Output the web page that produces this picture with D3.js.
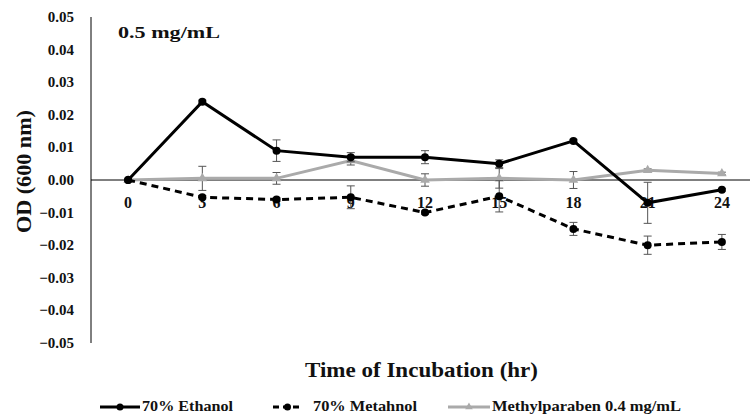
<!DOCTYPE html>
<html lang="en">
  <head>
    <meta charset="UTF-8" />
    <title>OD 0.5 mg/mL</title>
    <script src="https://d3js.org/d3.v7.min.js"></script>
    <style>
      body {
        margin: 0;
        background: white;
      }
      svg {
        display: block;
      }
      svg text {
        font-family: "Liberation Serif", "Times New Roman", Times, "DejaVu Serif", serif;
        font-weight: bold;
        fill: #111;
      }
    </style>
  </head>
  <body>
    <svg id="chart" width="750" height="419"></svg>
    <script>
      const hours = ["0", "3", "6", "9", "12", "15", "18", "21", "24"];
      const yTicks = [0.05, 0.04, 0.03, 0.02, 0.01, 0, -0.01, -0.02, -0.03, -0.04, -0.05];

      const ethanol = [0, 0.024, 0.009, 0.007, 0.007, 0.005, 0.012, -0.007, -0.003];
      const ethanolErr = [0, 0.0005, 0.0033, 0.0014, 0.002, 0.0012, 0.0005, 0.0063, 0.0004];

      const methanol = [0, -0.0053, -0.006, -0.0053, -0.010, -0.005, -0.015, -0.020, -0.019];
      const methanolErr = [0, 0.0005, 0.0005, 0.0035, 0.0005, 0.0048, 0.002, 0.0028, 0.0023];

      const paraben = [0, 0.0005, 0.0005, 0.006, 0, 0.0005, 0, 0.003, 0.002];
      const parabenErr = [0, 0.0037, 0.0018, 0.0014, 0.0019, 0.003, 0.0026, 0.0004, 0.0004];

      const seriesNames = ["70% Ethanol", "70% Metahnol", "Methylparaben 0.4 mg/mL"];

      const series = [
        { name: seriesNames[0], values: ethanol, err: ethanolErr, color: "#000", dash: null, marker: "circle" },
        { name: seriesNames[1], values: methanol, err: methanolErr, color: "#000", dash: "7,5", marker: "circle" },
        { name: seriesNames[2], values: paraben, err: parabenErr, color: "#aaa", dash: null, marker: "triangle" },
      ];

      const svg = d3.select("#chart");

      const x = d3.scalePoint().domain(hours).range([91, 759]).padding(0.5);
      const y = d3.scaleLinear().domain([-0.05, 0.05]).range([343, 17]);

      // y axis
      const yAxis = svg.append("g").attr("transform", "translate(91,0)");
      yAxis.append("line").attr("y1", y(0.05)).attr("y2", y(-0.05)).attr("stroke", "#000");
      yAxis
        .selectAll("text")
        .data(yTicks)
        .enter()
        .append("text")
        .attr("x", -17)
        .attr("y", (d) => y(d) + 5)
        .attr("text-anchor", "end")
        .attr("font-size", 15)
        .text((d) => d3.format(".2f")(d));

      // x axis at zero
      svg
        .append("line")
        .attr("x1", 91)
        .attr("x2", 750)
        .attr("y1", y(0))
        .attr("y2", y(0))
        .attr("stroke", "#000");

      svg
        .append("g")
        .selectAll("text")
        .data(hours)
        .enter()
        .append("text")
        .attr("x", (d) => x(d))
        .attr("y", 208)
        .attr("text-anchor", "middle")
        .attr("font-size", 16)
        .text((d) => d);

      // axis titles
      svg
        .append("text")
        .attr("transform", "translate(31,171.5) rotate(-90)")
        .attr("text-anchor", "middle")
        .attr("font-size", 20)
        .attr("textLength", 123)
        .attr("lengthAdjust", "spacingAndGlyphs")
        .text("OD (600 nm)");

      svg
        .append("text")
        .attr("x", 305)
        .attr("y", 377)
        .attr("font-size", 22)
        .attr("textLength", 233)
        .attr("lengthAdjust", "spacingAndGlyphs")
        .text("Time of Incubation (hr)");

      svg
        .append("text")
        .attr("x", 118)
        .attr("y", 37.5)
        .attr("font-size", 17)
        .attr("textLength", 102)
        .attr("lengthAdjust", "spacingAndGlyphs")
        .text("0.5 mg/mL");

      const line = d3
        .line()
        .x((d, i) => x(hours[i]))
        .y((d) => y(d));

      const triangle = d3.symbol().type(d3.symbolTriangle).size(40);

      // draw gray series first, then black ones on top
      [series[2], series[1], series[0]].forEach((s) => {
        const g = svg.append("g");

        // error bars
        s.values.forEach((v, i) => {
          const e = s.err[i];
          if (!e) return;
          const cx = x(hours[i]);
          const eg = g.append("g").attr("stroke", "#555").attr("stroke-width", 1);
          eg.append("line").attr("x1", cx).attr("x2", cx).attr("y1", y(v + e)).attr("y2", y(v - e));
          eg.append("line").attr("x1", cx - 4).attr("x2", cx + 4).attr("y1", y(v + e)).attr("y2", y(v + e));
          eg.append("line").attr("x1", cx - 4).attr("x2", cx + 4).attr("y1", y(v - e)).attr("y2", y(v - e));
        });

        g.append("path")
          .datum(s.values)
          .attr("d", line)
          .attr("fill", "none")
          .attr("stroke", s.color)
          .attr("stroke-width", 3)
          .attr("stroke-dasharray", s.dash);

        if (s.marker === "circle") {
          g.selectAll("circle")
            .data(s.values)
            .enter()
            .append("circle")
            .attr("cx", (d, i) => x(hours[i]))
            .attr("cy", (d) => y(d))
            .attr("r", 4)
            .attr("fill", s.color);
        } else {
          g.selectAll("path.m")
            .data(s.values)
            .enter()
            .append("path")
            .attr("class", "m")
            .attr("d", triangle)
            .attr("transform", (d, i) => `translate(${x(hours[i])},${y(d)})`)
            .attr("fill", s.color);
        }
      });

      // legend
      const legendItems = [
        { s: series[0], x1: 100, x2: 140, tx: 142, w: 91 },
        { s: series[1], x1: 273, x2: 302, tx: 313, w: 104 },
        { s: series[2], x1: 448, x2: 490, tx: 492, w: 189 },
      ];
      const ly = 407;
      const legend = svg.append("g");
      legendItems.forEach((it) => {
        const s = it.s;
        legend
          .append("line")
          .attr("x1", it.x1)
          .attr("x2", it.x2)
          .attr("y1", ly)
          .attr("y2", ly)
          .attr("stroke", s.color)
          .attr("stroke-width", 3)
          .attr("stroke-dasharray", s.dash ? "6,4" : null);
        const mx = (it.x1 + it.x2) / 2;
        if (s.marker === "circle") {
          legend.append("circle").attr("cx", mx).attr("cy", ly).attr("r", 3.5).attr("fill", s.color);
        } else {
          legend
            .append("path")
            .attr("d", d3.symbol().type(d3.symbolTriangle).size(25))
            .attr("transform", `translate(${mx},${ly})`)
            .attr("fill", s.color);
        }
        legend
          .append("text")
          .attr("x", it.tx)
          .attr("y", 411)
          .attr("font-size", 14)
          .attr("textLength", it.w)
          .attr("lengthAdjust", "spacingAndGlyphs")
          .text(s.name);
      });
    </script>
  </body>
</html>
